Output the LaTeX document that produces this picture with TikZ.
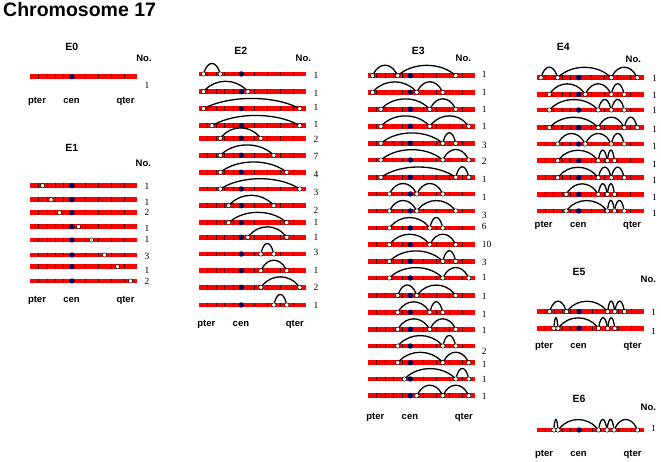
\documentclass[tikz,border=0pt]{standalone}
\usepackage{fontspec}
\setmainfont{Liberation Serif}
\setsansfont{Liberation Sans}
\usetikzlibrary{calc}

\begin{document}
\begin{tikzpicture}[
        x=1pt, y=-1pt, % 像素坐标, y 向下
        armline/.style={line width=4.6pt, red},
        bandtick/.style={line width=0.45pt, red!30!black},
        cenmark/.style={fill=blue!35!black},
        brkpt/.style={circle, draw=black, fill=white, line width=0.5pt, minimum size=4.4pt, inner sep=0pt},
        splice/.style={line width=1.3pt, black},
        cntlabel/.style={font=\fontsize{9.5}{11}\selectfont, anchor=west, inner sep=0pt},
        setlabel/.style={font=\sffamily\bfseries\fontsize{10.5}{12}\selectfont, anchor=base, inner sep=0pt},
        nolabel/.style={font=\sffamily\bfseries\fontsize{9.5}{11}\selectfont, anchor=base, inner sep=0pt},
        armlabel/.style={font=\sffamily\bfseries\fontsize{9.5}{11}\selectfont, anchor=base, inner sep=0pt}
    ]
    \useasboundingbox (0,0) rectangle (661,461);

    % --- 定义参数 ---
    \def\pw{8.4}   % p 臂每带宽度
    \def\qw{13}    % q 臂每带宽度

    % 染色体: 起点 #1, 高度 #2
    \def\chrbar#1#2{%
        \draw[armline] (#1,#2) -- ++(107,0);
        \foreach \t in {1,...,4} {
            \draw[bandtick] ({#1+\t*\pw},#2-2.3) -- ++(0,4.6);
            \draw[bandtick] ({#1+42+\t*\qw},#2-2.3) -- ++(0,4.6);
        }
        \fill[cenmark] ({#1+42},#2) circle (2.7pt);
    }
    % 断点与连接弧: 起点 #1, 高度 #2, 位置列表 #3
    \def\chrbp#1#2#3{%
        \foreach \u [count=\k] in #3 {
            \pgfmathsetmacro\xx{#1+(\u<5 ? \u*\pw : 42+(\u-5)*\qw)}
            \node[brkpt] (bp\k) at (\xx,#2) {};
        }
        \foreach \u [count=\k] in #3 {
            \ifnum\k>1
                \pgfmathtruncatemacro\j{\k-1}
                \draw[splice] (bp\j) .. controls ($(bp\j)!0.28!(bp\k)+(0,-13.3)$) and ($(bp\k)!0.28!(bp\j)+(0,-13.3)$) .. (bp\k);
            \fi
        }
    }
    % pter / cen / qter
    \def\armtext#1#2#3{%
        \node[armlabel] (pter#1) at ({#2+7},#3) {pter};
        \node[armlabel] (cen#1) at ({#2+41.6},#3) {cen};
        \node[armlabel] (qter#1) at ({#2+95.5},#3) {qter};
    }

    % --- 标题 ---
    \node[anchor=base west, inner sep=0pt, font=\sffamily\bfseries\fontsize{19.5}{22}\selectfont] (title) at (3,16.7) {Chromosome 17};

    % --- E0 ---
    \node[setlabel] (setE0) at (71.7,50.7) {E0};
    \node[nolabel] (noE0) at (144,61.7) {No.};
    \chrbar{30}{76.7}
    \node[cntlabel] (cntE0) at (144.3,85) {1};
    \armtext{E0}{30}{103.3}

    % --- E1 ---
    \node[setlabel] (setE1) at (71.7,151) {E1};
    \node[nolabel] (noE1) at (143.3,166.7) {No.};
    \foreach \y/\ny/\n/\bp [count=\r] in {
        185.7/186/1/{1.5}, 199.7/202/1/{2.5}, 212.7/212.7/2/{3.5},
        226.7/228.3/1/{5.5}, 240/239.3/1/{6.5}, 255/256.7/3/{7.5},
        266.7/270/1/{8.5}, 281/281.7/2/{9.5}} {
        \chrbar{30}{\y}
        \chrbp{30}{\y}{\bp}
        \node[cntlabel] (cntE1-\r) at (144.3,\ny) {\n};
    }
    \armtext{E1}{30}{302.7}

    % --- E2 ---
    \node[setlabel] (setE2) at (240.7,54) {E2};
    \node[nolabel] (noE2) at (303.3,61.7) {No.};
    \foreach \y/\ny/\n/\bp [count=\r] in {
        74/75.7/1/{0.5,2.5}, 91.7/93.3/1/{0.5,5.5}, 108.7/107.3/1/{0.5,9.5},
        125.7/124.3/1/{1.5,9.5}, 138.3/139/2/{2.5,6.5}, 155.3/156.7/7/{2.5,7.5},
        172.3/174.3/4/{2.5,8.5}, 189/192.3/3/{2.5,9.5}, 205.7/210.7/2/{3.5,7.5},
        222.7/222.7/1/{3.5,8.5}, 237.3/237.3/1/{5.5,8.5}, 254/252.7/3/{6.5,7.5},
        270.7/270.7/1/{6.5,8.5}, 287.3/287.7/2/{6.5,9.5}, 305/305/1/{7.5,8.5}} {
        \chrbar{199.3}{\y}
        \chrbp{199.3}{\y}{\bp}
        \node[cntlabel] (cntE2-\r) at (313.3,\ny) {\n};
    }
    \armtext{E2}{199.3}{326.7}

    % --- E3 ---
    \node[setlabel] (setE3) at (418.3,54) {E3};
    \node[nolabel] (noE3) at (463.3,61.7) {No.};
    \foreach \y/\ny/\n/\bp [count=\r] in {
        75.7/74.3/1/{0.5,3.5,8.5}, 92.3/92.7/1/{0.5,5.5,7.5},
        109.3/109.3/1/{1.5,6.5,8.5}, 126.3/126.7/1/{1.5,6.5,9.5},
        143.3/145.7/3/{1.5,7.5,8.5}, 160/161/2/{1.5,7.5,9.5},
        177.3/179/1/{1.5,8.5,9.5}, 194/197.3/1/{2.5,5.5,7.5},
        211/215/3/{2.5,5.5,8.5}, 228/226.7/6/{2.5,6.5,7.5},
        244.7/244.7/10/{2.5,6.5,8.5}, 261.3/262.7/3/{2.5,7.5,8.5},
        278/277.7/1/{2.5,7.5,9.5}, 295.5/296.3/1/{3.5,5.5,8.5},
        312.3/314/1/{3.5,6.5,7.5}, 329.3/330.7/1/{3.5,6.5,8.5},
        346/351/2/{3.5,7.5,8.5}, 362.7/364/1/{3.5,7.5,9.5},
        379/379/1/{4.3,8.5,9.5}, 395.7/396.7/1/{5.5,7.5,9.5}} {
        \chrbar{368.3}{\y}
        \chrbp{368.3}{\y}{\bp}
        \node[cntlabel] (cntE3-\r) at (481.6,\ny) {\n};
    }
    \armtext{E3}{368.3}{419.3}

    % --- E4 ---
    \node[setlabel] (setE4) at (563.3,50.7) {E4};
    \node[nolabel] (noE4) at (633.3,62.3) {No.};
    \foreach \y/\ny/\n/\bp [count=\r] in {
        77.7/78.3/1/{0.5,2.5,7.5,9.5}, 94.3/95/1/{1.5,5.5,7.5,8.5},
        110/110/1/{1.5,6.5,7.5,8.5}, 127.7/129/1/{1.5,6.5,8.5,9.5},
        144/146.7/1/{2.5,5.5,7.5,8.5}, 160.7/164.3/1/{2.5,6.5,7.2,7.75},
        177.7/180.7/1/{2.5,6.5,7.5,8.5}, 194.3/197.7/1/{3.5,6.5,7.2,7.75},
        211/213.3/1/{3.5,7.2,7.75,8.5}} {
        \chrbar{536.7}{\y}
        \chrbp{536.7}{\y}{\bp}
        \node[cntlabel] (cntE4-\r) at (651.9,\ny) {\n};
    }
    \armtext{E4}{536.7}{227.5}

    % --- E5 ---
    \node[setlabel] (setE5) at (579,275.3) {E5};
    \node[nolabel] (noE5) at (648.3,282.3) {No.};
    \foreach \y/\ny/\n/\bp [count=\r] in {
        311.7/312.7/1/{1.5,3.5,7.2,7.75,8.5}, 328.3/331.7/1/{2,2.5,6.5,7.2,7.75}} {
        \chrbar{537}{\y}
        \chrbp{537}{\y}{\bp}
        \node[cntlabel] (cntE5-\r) at (650.9,\ny) {\n};
    }
    \armtext{E5}{537}{348.3}

    % --- E6 ---
    \node[setlabel] (setE6) at (579,402.7) {E6};
    \node[nolabel] (noE6) at (648.3,410) {No.};
    \foreach \y/\ny/\n/\bp [count=\r] in {
        430/428.3/1/{2,2.5,6.5,7.15,7.7,9.5}} {
        \chrbar{537}{\y}
        \chrbp{537}{\y}{\bp}
        \node[cntlabel] (cntE6-\r) at (650.9,\ny) {\n};
    }
    \armtext{E6}{537}{456}

\end{tikzpicture}
\end{document}
